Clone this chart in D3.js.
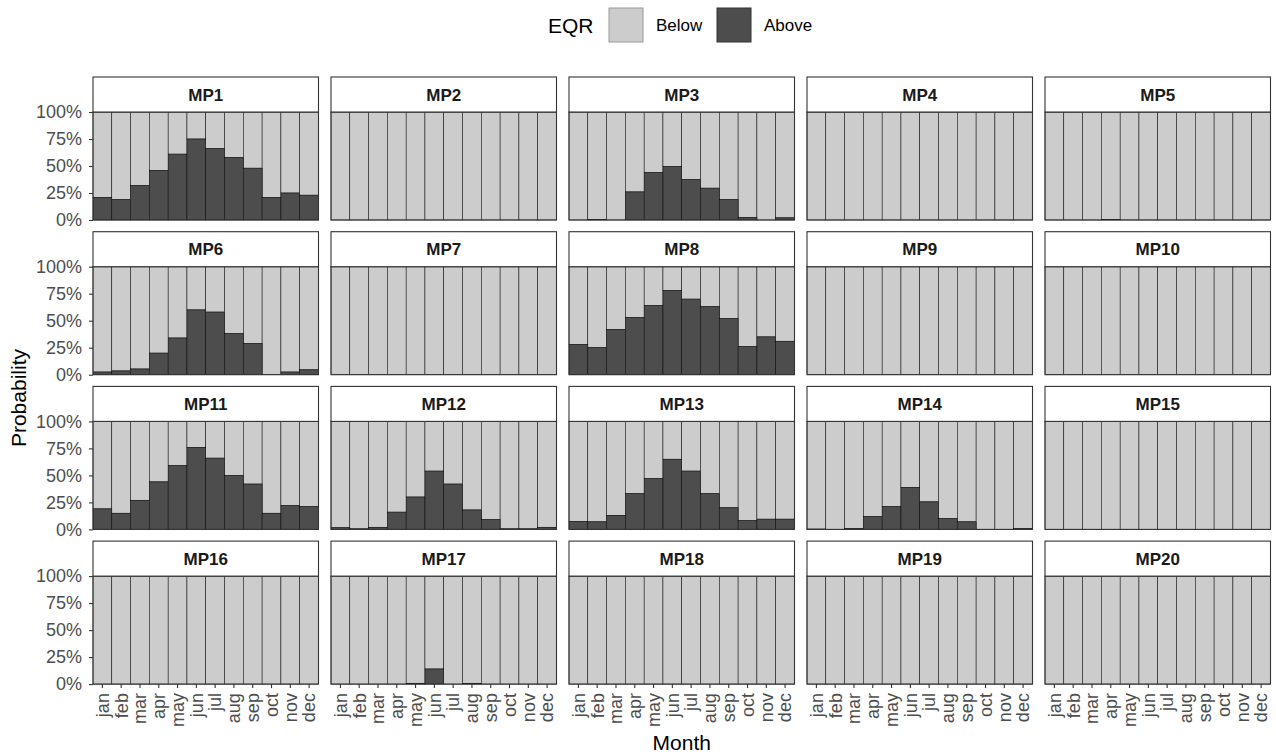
<!DOCTYPE html>
<html>
<head>
<meta charset="utf-8">
<script src="https://cdn.jsdelivr.net/npm/d3@7"></script>
<style>
  body { margin: 0; background: #ffffff; }
  svg { display: block; font-family: "Liberation Sans", Arial, Helvetica, sans-serif; }
</style>
</head>
<body>
<svg id="chart" width="1276" height="756"></svg>
<script>
// Months on the x axis
const months = ["jan", "feb", "mar", "apr", "may", "jun", "jul", "aug", "sep", "oct", "nov", "dec"];

// Share of simulations with EQR above the threshold, per monitoring point and month
const mp1  = [0.21, 0.19, 0.32, 0.46, 0.61, 0.75, 0.66, 0.58, 0.48, 0.21, 0.25, 0.23];
const mp2  = [0, 0, 0, 0, 0, 0, 0, 0, 0, 0, 0, 0];
const mp3  = [0, 0.005, 0, 0.26, 0.44, 0.495, 0.375, 0.295, 0.19, 0.025, 0, 0.02];
const mp4  = [0, 0, 0, 0, 0, 0, 0, 0, 0, 0, 0, 0];
const mp5  = [0, 0, 0, 0.004, 0, 0, 0, 0, 0, 0, 0, 0];
const mp6  = [0.025, 0.035, 0.053, 0.20, 0.34, 0.60, 0.58, 0.38, 0.29, 0, 0.025, 0.045];
const mp7  = [0, 0, 0, 0, 0, 0, 0, 0, 0, 0, 0, 0];
const mp8  = [0.28, 0.25, 0.42, 0.53, 0.64, 0.78, 0.70, 0.63, 0.52, 0.26, 0.35, 0.31];
const mp9  = [0, 0, 0, 0, 0, 0, 0, 0, 0, 0, 0, 0];
const mp10 = [0, 0, 0, 0, 0, 0, 0, 0, 0, 0, 0, 0];
const mp11 = [0.19, 0.15, 0.27, 0.44, 0.59, 0.76, 0.66, 0.50, 0.42, 0.15, 0.22, 0.21];
const mp12 = [0.015, 0.005, 0.02, 0.16, 0.30, 0.54, 0.42, 0.18, 0.09, 0.005, 0.005, 0.02];
const mp13 = [0.075, 0.07, 0.13, 0.33, 0.47, 0.65, 0.54, 0.33, 0.20, 0.08, 0.095, 0.095];
const mp14 = [0.003, 0, 0.01, 0.12, 0.21, 0.39, 0.255, 0.10, 0.07, 0, 0, 0.01];
const mp15 = [0, 0, 0, 0, 0, 0, 0, 0, 0, 0, 0, 0];
const mp16 = [0, 0, 0, 0, 0, 0, 0, 0, 0, 0, 0, 0];
const mp17 = [0, 0, 0, 0, 0.008, 0.14, 0, 0.008, 0, 0, 0, 0];
const mp18 = [0, 0, 0, 0, 0, 0, 0, 0, 0, 0, 0, 0];
const mp19 = [0, 0, 0, 0, 0, 0, 0, 0, 0, 0, 0, 0];
const mp20 = [0, 0, 0, 0, 0, 0, 0, 0, 0, 0, 0, 0];

const sites = ["MP1", "MP2", "MP3", "MP4", "MP5", "MP6", "MP7", "MP8", "MP9", "MP10",
               "MP11", "MP12", "MP13", "MP14", "MP15", "MP16", "MP17", "MP18", "MP19", "MP20"];
const aboveBySite = [mp1, mp2, mp3, mp4, mp5, mp6, mp7, mp8, mp9, mp10,
                     mp11, mp12, mp13, mp14, mp15, mp16, mp17, mp18, mp19, mp20];

const yTicks = [0, 0.25, 0.5, 0.75, 1];
const eqrClasses = ["Below", "Above"];

// Layout
const nCols = 5, nRows = 4;
const panelW = 225.5, panelH = 108, stripH = 35;
const colStep = 238, rowStep = 154.7;
const left0 = 93, top0 = 112;

const fills = d3.scaleOrdinal().domain(eqrClasses).range(["#cccccc", "#4d4d4d"]);
const x = d3.scaleBand().domain(months).range([0, panelW]).padding(0);
const y = d3.scaleLinear().domain([0, 1]).range([panelH, 0]);

const svg = d3.select("#chart");
const tickColor = "#4d4d4d";

sites.forEach((site, i) => {
  const col = i % nCols, row = Math.floor(i / nCols);
  const g = svg.append("g")
    .attr("transform", `translate(${left0 + col * colStep},${top0 + row * rowStep})`);

  const rows = months.map((m, j) => ({ month: m, above: aboveBySite[i][j] }));

  // Below part (stacked on top)
  g.selectAll("rect.below").data(rows).join("rect")
    .attr("class", "below")
    .attr("x", d => x(d.month))
    .attr("width", x.bandwidth())
    .attr("y", y(1))
    .attr("height", d => y(d.above) - y(1))
    .attr("fill", fills("Below"))
    .attr("stroke", "#000")
    .attr("stroke-width", 0.5);

  // Above part (bottom of the stack)
  g.selectAll("rect.above").data(rows.filter(d => d.above > 0)).join("rect")
    .attr("class", "above")
    .attr("x", d => x(d.month))
    .attr("width", x.bandwidth())
    .attr("y", d => y(d.above))
    .attr("height", d => y(0) - y(d.above))
    .attr("fill", fills("Above"))
    .attr("stroke", "#000")
    .attr("stroke-width", 0.5);

  // Panel border
  g.append("rect")
    .attr("x", 0).attr("y", 0)
    .attr("width", panelW).attr("height", panelH)
    .attr("fill", "none").attr("stroke", "#333333").attr("stroke-width", 1.1);

  // Facet strip
  g.append("rect")
    .attr("x", 0).attr("y", -stripH)
    .attr("width", panelW).attr("height", stripH)
    .attr("fill", "#ffffff").attr("stroke", "#333333").attr("stroke-width", 1.1);
  g.append("text")
    .attr("x", panelW / 2).attr("y", -stripH / 2)
    .attr("dy", "0.36em")
    .attr("text-anchor", "middle")
    .attr("font-size", 17).attr("font-weight", "bold")
    .attr("fill", "#1a1a1a")
    .text(site);

  // Y axis on the first column
  if (col === 0) {
    const ya = g.append("g")
      .call(d3.axisLeft(y).tickValues(yTicks).tickFormat(d3.format(".0%")).tickSize(4).tickPadding(7));
    ya.select(".domain").remove();
    ya.selectAll(".tick line").attr("stroke", "#333333").attr("stroke-width", 1.1);
    ya.selectAll(".tick text").attr("fill", tickColor).attr("font-size", 18)
      .attr("font-family", "Liberation Sans, Arial, sans-serif");
  }

  // X axis on the bottom row
  if (row === nRows - 1) {
    const xa = g.append("g")
      .attr("transform", `translate(0,${panelH})`)
      .call(d3.axisBottom(x).tickSize(4));
    xa.select(".domain").remove();
    xa.selectAll(".tick line").attr("stroke", "#333333").attr("stroke-width", 1.1);
    xa.selectAll(".tick text")
      .attr("fill", tickColor).attr("font-size", 18)
      .attr("font-family", "Liberation Sans, Arial, sans-serif")
      .attr("y", 0).attr("x", -9).attr("dy", "0.35em")
      .attr("transform", "rotate(-90)")
      .style("text-anchor", "end");
  }
});

// Axis titles
svg.append("text")
  .attr("transform", `translate(19,${top0 + ((nRows - 1) * rowStep + panelH) / 2}) rotate(-90)`)
  .attr("text-anchor", "middle").attr("dy", "0.35em")
  .attr("font-size", 21).attr("fill", "#000")
  .text("Probability");

svg.append("text")
  .attr("x", left0 + ((nCols - 1) * colStep + panelW) / 2)
  .attr("y", 750)
  .attr("text-anchor", "middle")
  .attr("font-size", 21).attr("fill", "#000")
  .text("Month");

// Legend
const legend = svg.append("g");
legend.append("text")
  .attr("x", 548).attr("y", 25).attr("dy", "0.36em")
  .attr("font-size", 21).attr("fill", "#000")
  .text("EQR");
const keyX = [609, 717];
eqrClasses.forEach((c, k) => {
  legend.append("rect")
    .attr("x", keyX[k]).attr("y", 8)
    .attr("width", 34).attr("height", 34)
    .attr("fill", fills(c))
    .attr("stroke", k === 0 ? "#999999" : "#333333")
    .attr("stroke-width", 1);
  legend.append("text")
    .attr("x", keyX[k] + 47).attr("y", 25).attr("dy", "0.36em")
    .attr("font-size", 17).attr("fill", "#000")
    .text(c);
});
</script>
</body>
</html>
